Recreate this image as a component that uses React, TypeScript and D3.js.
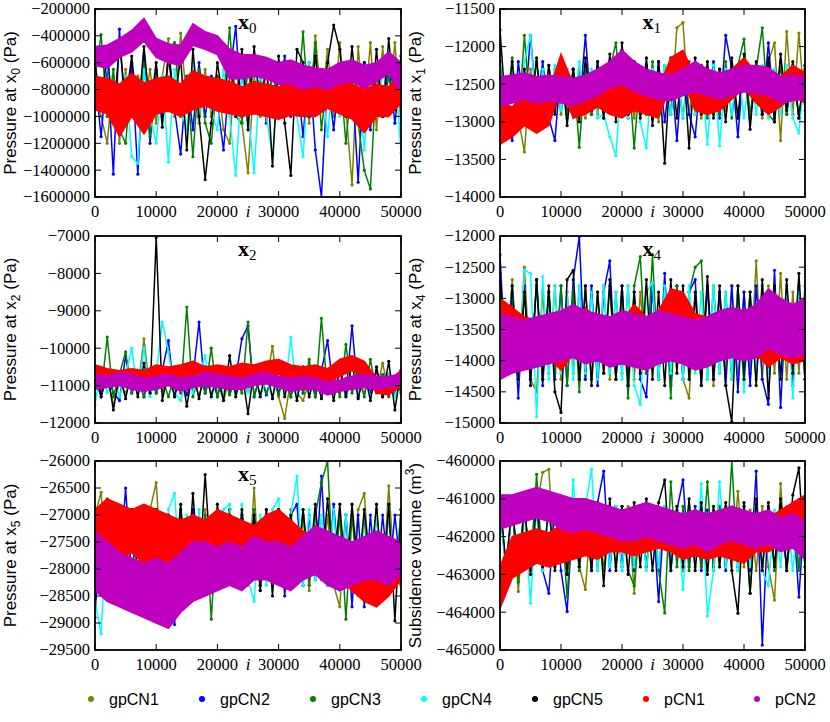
import * as d3 from 'd3';

// iteration grid of the read-off traces (every 1000 iterations, bands every 2000)
const ITERS = d3.range(0, 50001, 1000);
const BAND_ITERS = d3.range(0, 50001, 2000);

const SERIES = ['gpCN1', 'gpCN2', 'gpCN3', 'gpCN4', 'gpCN5', 'pCN1', 'pCN2'];
const COLORS = ['#808000', '#0000ff', '#008000', '#00ffff', '#000000', '#ff0000', '#bf00bf'];
const X_TICKS = [0, 10000, 20000, 30000, 40000, 50000];

// values read in kPa for x0
const kilo = (a: number[]) => a.map(v => v * 1000);

// ---- x0 ----
const x0_gpCN1 = kilo([-800,-1000,-1200,-700,-1200,-650,-1000,-700,-950,-650,-1050,-700,-420,-1000,-380,-900,-700,-1050,-650,-1000,-700,-1100,-1200,-600,-1050,-1420,-700,-1000,-650,-950,-600,-1000,-700,-950,-650,-1050,-400,-900,-500,-1000,-450,-950,-1510,-480,-1000,-450,-1100,-480,-950,-450,-1050]);
const x0_gpCN2 = kilo([-700,-1150,-600,-1430,-350,-1050,-600,-1430,-550,-1200,-650,-1000,-550,-950,-1280,-700,-1100,-600,-1000,-700,-900,-1250,-700,-330,-1000,-600,-950,-700,-1050,-650,-900,-550,-1000,-700,-1150,-600,-1250,-1600,-700,-1100,-650,-950,-700,-1490,-600,-1100,-650,-1000,-600,-1050,-650]);
const x0_gpCN3 = kilo([-700,-390,-1000,-650,-1100,-1200,-700,-1000,-600,-1150,-700,-950,-600,-450,-1000,-700,-1300,-650,-1050,-1200,-700,-900,-340,-1000,-1050,-650,-950,-700,-1000,-650,-900,-1000,-600,-950,-370,-1000,-450,-1100,-700,-950,-650,-1200,-700,-1050,-1400,-1540,-650,-1000,-700,-950,-650]);
const x0_gpCN4 = kilo([-650,-900,-600,-1000,-1150,-700,-1300,-1350,-650,-1000,-1200,-700,-1340,-650,-950,-1100,-600,-1000,-700,-950,-1100,-650,-1000,-1440,-700,-950,-1420,-650,-1000,-1300,-700,-950,-650,-1000,-1300,-600,-950,-700,-1150,-650,-1000,-700,-950,-650,-1250,-700,-1000,-650,-900,-600,-1270]);
const x0_gpCN5 = kilo([-600,-950,-500,-1050,-450,-900,-550,-1000,-480,-950,-600,-1080,-520,-900,-560,-1250,-500,-1000,-1470,-1050,-600,-900,-550,-1000,-500,-1100,-480,-950,-600,-1370,-550,-1050,-1440,-500,-600,-1000,-550,-950,-600,-320,-500,-1000,-480,-950,-600,-1050,-500,-1000,-420,-950,-550]);
const x0_pCN1_hi = kilo([-700,-720,-760,-680,-750,-720,-700,-760,-660,-700,-720,-740,-780,-740,-760,-780,-750,-760,-720,-700,-720,-760,-800,-760,-780,-660]);
const x0_pCN1_lo = kilo([-950,-980,-1150,-1000,-1130,-980,-960,-1000,-950,-920,-960,-980,-1000,-980,-1000,-1020,-990,-1000,-1000,-940,-980,-1020,-1120,-1000,-1000,-900]);
const x0_pCN2_hi = kilo([-480,-470,-420,-360,-270,-420,-460,-470,-310,-370,-400,-500,-540,-540,-560,-600,-580,-620,-640,-650,-600,-580,-620,-600,-520,-600]);
const x0_pCN2_lo = kilo([-620,-640,-560,-520,-440,-560,-600,-620,-470,-500,-540,-720,-720,-700,-720,-760,-760,-800,-780,-800,-760,-740,-790,-740,-680,-820]);

// ---- x1 ----
const x1_gpCN1 = [-12500,-12900,-12300,-12950,-13400,-12300,-12900,-12350,-12850,-12300,-12900,-12350,-12850,-12300,-12950,-12400,-12900,-12300,-12850,-12400,-12900,-12300,-12950,-12350,-12900,-12300,-13000,-12350,-12900,-11750,-11680,-12900,-12300,-12950,-12350,-12900,-12300,-12850,-12350,-12950,-12300,-12900,-12350,-12950,-12200,-11950,-13250,-11800,-12900,-11820,-12850];
const x1_gpCN2 = [-12300,-12950,-13250,-12200,-12900,-11850,-12800,-12200,-12950,-13250,-12250,-12900,-12300,-12850,-11850,-12900,-12300,-12950,-12200,-12900,-12050,-12950,-12300,-12900,-12250,-12950,-12200,-13000,-12300,-13250,-12200,-12900,-13200,-12250,-12900,-12200,-12950,-11850,-12300,-13200,-12200,-12950,-12300,-12900,-11950,-12950,-12200,-12900,-12250,-12950,-12300];
const x1_gpCN3 = [-12200,-12900,-12150,-13000,-11850,-12900,-12200,-12950,-12250,-12850,-12200,-12950,-12300,-13340,-12250,-12900,-12200,-12950,-12300,-11950,-12900,-12250,-13350,-12300,-12900,-12200,-12950,-12250,-12900,-12300,-12950,-12200,-12900,-12250,-12950,-12300,-12900,-12200,-12950,-12250,-11900,-12950,-12300,-11750,-12900,-13000,-12250,-12900,-12300,-12950,-12250];
const x1_gpCN4 = [-12300,-12900,-12250,-13000,-12200,-11850,-12900,-12300,-12950,-12250,-12850,-12300,-12950,-12200,-12900,-12300,-12950,-12900,-13200,-13450,-12300,-12950,-12250,-13000,-13350,-12300,-12950,-12250,-12900,-12300,-12950,-12250,-12900,-12300,-13300,-12250,-13320,-12300,-12900,-12250,-12950,-12300,-12900,-12250,-12950,-12300,-12900,-12250,-12950,-13150,-12300];
const x1_gpCN5 = [-11780,-12900,-12200,-13000,-12300,-12850,-12150,-13000,-12250,-12900,-12200,-13050,-12300,-13000,-12150,-12850,-12200,-12950,-12100,-13000,-11950,-12900,-12200,-12950,-12150,-13050,-12200,-13550,-12150,-12950,-12100,-13350,-12150,-12900,-12200,-12950,-12300,-13000,-12150,-12950,-12100,-13100,-12200,-12900,-12150,-13000,-12100,-12850,-12200,-12950,-12250];
const x1_pCN1_hi = [-12750,-12800,-12650,-12700,-12600,-12100,-12500,-12550,-12400,-12450,-12500,-12450,-12500,-12550,-12150,-12050,-12400,-12550,-12500,-12300,-12150,-12350,-12550,-12400,-12250,-12350];
const x1_pCN1_lo = [-13300,-13200,-13050,-13150,-13050,-12550,-12950,-12900,-12800,-12900,-12950,-12850,-12900,-12950,-12500,-12450,-12850,-12900,-12850,-12700,-12550,-12750,-12900,-12800,-12650,-12750];
const x1_pCN2_hi = [-12400,-12380,-12350,-12400,-12380,-12400,-12420,-12380,-12300,-12200,-12050,-12200,-12300,-12350,-12380,-12300,-12200,-12300,-12350,-12300,-12250,-12250,-12280,-12400,-12380,-12400];
const x1_pCN2_lo = [-12800,-12750,-12700,-12750,-12720,-12750,-12780,-12720,-12650,-12550,-12500,-12600,-12650,-12700,-12720,-12650,-12600,-12650,-12700,-12650,-12600,-12620,-12650,-12750,-12720,-12700];

// ---- x2 ----
const x2_gpCN1 = [-10900,-11200,-10800,-11530,-10900,-11200,-10800,-11100,-9750,-11200,-10800,-11150,-10900,-11200,-10800,-11100,-10900,-11250,-10800,-11200,-10900,-11400,-10800,-11200,-10900,-11150,-10800,-11200,-10900,-9950,-11300,-11880,-10800,-11200,-11400,-10900,-11200,-10800,-11150,-10900,-11200,-10800,-11100,-10900,-11200,-10800,-11150,-10400,-11200,-10900,-11100];
const x2_gpCN2 = [-10800,-11300,-10700,-11200,-11400,-10200,-11200,-10800,-11300,-10700,-11200,-10600,-9800,-11300,-10700,-11250,-10800,-9300,-11200,-10700,-11300,-10600,-11200,-10800,-9750,-9400,-11300,-10700,-11250,-10650,-11200,-10700,-11300,-10600,-11200,-10700,-11300,-10600,-9800,-11200,-10700,-11250,-9400,-11300,-10700,-11200,-10600,-11300,-10700,-11250,-10600];
const x2_gpCN3 = [-10800,-11200,-9700,-11300,-10700,-10100,-11200,-10800,-11300,-10700,-11200,-10800,-11300,-10700,-11200,-8900,-11300,-10700,-11200,-10000,-11300,-10700,-11250,-10800,-11200,-9300,-11300,-10700,-11200,-10800,-11250,-10700,-11300,-10700,-11200,-10300,-11300,-9200,-11200,-10700,-11300,-9900,-11200,-10700,-11300,-10300,-11200,-10700,-11300,-10800,-11200];
const x2_gpCN4 = [-11500,-10500,-11200,-10800,-11300,-10700,-10000,-11200,-10000,-11300,-10700,-9300,-10100,-11200,-11400,-10800,-11200,-10700,-10200,-11300,-10800,-11200,-10700,-11300,-10800,-11200,-10700,-11300,-10800,-11350,-10700,-11200,-9700,-11300,-10800,-11200,-10700,-11300,-10800,-11200,-10700,-11300,-10800,-11200,-10700,-11300,-10800,-11200,-10700,-11300,-10600];
const x2_gpCN5 = [-10500,-11300,-10600,-11650,-10700,-11350,-10600,-11300,-10400,-11200,-7050,-11400,-10600,-11300,-10500,-11550,-10600,-11350,-10500,-11300,-10700,-11400,-10200,-11300,-10600,-11750,-10550,-11300,-10500,-11350,-10400,-11300,-10600,-11400,-10500,-11300,-10700,-11350,-10600,-11400,-10500,-11300,-10400,-11350,-10600,-11400,-10500,-11300,-10350,-11650,-10600];
const x2_pCN1_hi = [-10450,-10550,-10600,-10550,-10600,-10450,-10500,-10450,-10350,-10500,-10450,-10500,-10400,-10450,-10350,-10300,-10450,-10500,-10450,-10550,-10300,-10200,-10350,-10800,-10850,-10600];
const x2_pCN1_lo = [-10850,-10900,-10950,-10900,-10950,-10800,-10900,-10800,-10750,-10850,-10800,-10850,-10750,-10800,-10700,-10700,-10800,-10850,-10800,-10900,-10750,-10600,-10750,-11200,-11250,-11000];
const x2_pCN2_hi = [-10700,-10750,-10650,-10700,-10800,-10750,-10700,-10800,-10750,-10650,-10700,-10750,-10800,-10700,-10650,-10750,-10800,-10750,-10800,-10900,-10850,-10750,-10700,-10750,-10750,-10700];
const x2_pCN2_lo = [-11100,-11050,-11000,-11100,-11150,-11100,-11000,-11150,-11050,-11000,-11050,-11100,-11100,-11000,-10950,-11050,-11150,-11100,-11100,-11250,-11150,-11100,-11050,-11100,-11050,-11000];

// ---- x4 ----
const x4_gpCN1 = [-12900,-14100,-12700,-14200,-12500,-14300,-14500,-12900,-14200,-12800,-14300,-12900,-14200,-12800,-14300,-12900,-14200,-12800,-14300,-12900,-14200,-12800,-14300,-12900,-14200,-12800,-14300,-12900,-14200,-12800,-14300,-14600,-12900,-14200,-12800,-14400,-12900,-14200,-12800,-14300,-12900,-14200,-12400,-14300,-12800,-14200,-12600,-14300,-12900,-14200,-12800];
const x4_gpCN2 = [-12300,-14200,-12900,-14600,-12800,-14300,-12700,-14400,-12900,-14300,-12800,-14400,-12700,-12010,-14300,-12800,-14400,-12900,-12400,-14300,-12800,-14400,-12900,-14300,-14580,-12800,-14300,-12600,-14400,-12800,-14300,-12900,-12700,-14400,-12800,-14300,-12900,-14400,-12800,-14500,-12900,-14400,-12800,-14300,-14700,-12550,-14750,-12900,-14400,-12800,-14300];
const x4_gpCN3 = [-12900,-14200,-12800,-14300,-12900,-14100,-12800,-14300,-12900,-14200,-12800,-14400,-12900,-14500,-12800,-14300,-12900,-14200,-12800,-14300,-12900,-14600,-12800,-12330,-14200,-12300,-14300,-12900,-14600,-12800,-14300,-12900,-12500,-12400,-14300,-12800,-14200,-12900,-14300,-12800,-14200,-12900,-14300,-12800,-14200,-12900,-14300,-12800,-14200,-12900,-14100];
const x4_gpCN4 = [-12900,-14200,-12800,-14300,-12550,-12600,-14900,-12650,-14300,-12800,-14200,-12900,-14300,-12800,-14200,-12900,-14300,-12800,-14200,-12900,-14300,-12800,-14400,-14700,-12900,-12750,-14300,-12800,-14200,-12900,-14300,-12800,-14200,-12900,-14300,-12800,-14200,-12900,-14300,-12800,-14500,-12900,-14300,-12800,-14200,-12900,-14300,-12800,-14600,-12900,-14200];
const x4_gpCN5 = [-12600,-14200,-12800,-14300,-12900,-14400,-12700,-14300,-12800,-14500,-14830,-12700,-12550,-14300,-12800,-14400,-12900,-14200,-12700,-14300,-12800,-14400,-12900,-14200,-12700,-14300,-12900,-14400,-12700,-14200,-12800,-14300,-12900,-14400,-12650,-14300,-12800,-14400,-14980,-12800,-14300,-12900,-14400,-12700,-14600,-12800,-14300,-12700,-14200,-12600,-14300];
const x4_pCN1_hi = [-13000,-13150,-13300,-13350,-13450,-13650,-13400,-13150,-13350,-13300,-13350,-13100,-13300,-13200,-12850,-12900,-13250,-13300,-13350,-13300,-13200,-13350,-13550,-13450,-13600,-13500];
const x4_pCN1_lo = [-13700,-13650,-13800,-13850,-13950,-14150,-13900,-13600,-13800,-13750,-13800,-13600,-13800,-13650,-13300,-13400,-13750,-13800,-13850,-13800,-13700,-13900,-14100,-13950,-14050,-14000];
const x4_pCN2_hi = [-13250,-13300,-13350,-13300,-13250,-13200,-13100,-13200,-13250,-13300,-13200,-13250,-13300,-13200,-13250,-13300,-13350,-13300,-13200,-13150,-13200,-13100,-12850,-13000,-13100,-13000];
const x4_pCN2_lo = [-14300,-14200,-14150,-14100,-14050,-14000,-13950,-14050,-14000,-14100,-14050,-14100,-14150,-14050,-14000,-14050,-14150,-14100,-14000,-13950,-14000,-13950,-13800,-13900,-13950,-13900];

// ---- x5 ----
const x5_gpCN1 = [-27000,-26580,-28200,-27000,-28300,-26900,-28200,-27000,-28300,-26900,-26400,-28200,-27000,-28300,-26900,-28200,-27000,-28300,-26900,-28200,-27000,-28300,-26900,-28200,-27000,-28300,-26500,-28400,-26900,-28200,-27000,-28300,-26900,-28200,-27000,-28400,-26900,-28200,-27000,-28300,-28700,-27000,-28200,-26900,-26600,-28200,-27000,-28300,-26460,-28200,-28300];
const x5_gpCN2 = [-28900,-27000,-28200,-26900,-28100,-26500,-28200,-27000,-28300,-26900,-28200,-27000,-28400,-29030,-27000,-28300,-26900,-28200,-27100,-28300,-27000,-28200,-26900,-28300,-27000,-28200,-27100,-28300,-27000,-28200,-26900,-28500,-27000,-26800,-28300,-27000,-28200,-26280,-28300,-26800,-28200,-27000,-28700,-27000,-28700,-27000,-28300,-27000,-28200,-27000,-28100];
const x5_gpCN3 = [-27000,-28200,-26700,-28500,-27000,-28100,-26900,-28200,-27000,-28300,-26900,-28200,-27000,-28300,-26900,-28200,-27000,-28300,-27000,-28930,-27000,-28200,-26900,-28300,-27000,-28200,-26900,-28300,-27000,-28200,-26900,-28300,-27000,-28200,-26900,-28300,-27000,-26400,-26000,-28300,-27000,-28930,-27000,-28300,-27000,-28600,-26900,-28200,-27000,-28300,-26900];
const x5_gpCN4 = [-28600,-29200,-27000,-28300,-26900,-28200,-27000,-28300,-26900,-28200,-27000,-28300,-26900,-26600,-28200,-27000,-28300,-26900,-28200,-27000,-28300,-26900,-26800,-28300,-26800,-28200,-28600,-27000,-28300,-26900,-26700,-28200,-27000,-26280,-28300,-26900,-28200,-27000,-28300,-26900,-28400,-27000,-28300,-28500,-26900,-28200,-27000,-28300,-26900,-28200,-27000];
const x5_gpCN5 = [-26900,-27900,-26800,-28000,-27000,-27900,-26900,-28100,-27000,-28000,-26900,-28100,-27000,-28000,-26800,-28200,-26600,-28100,-26250,-28000,-26800,-27900,-27000,-28200,-26900,-28100,-27000,-28400,-26900,-28500,-26900,-28200,-27000,-28100,-26900,-28000,-26800,-28100,-26700,-28000,-26800,-28200,-26800,-28100,-26900,-28000,-26800,-28300,-26800,-28960,-26900];
const x5_pCN1_hi = [-26900,-26700,-26800,-26900,-26800,-26900,-27000,-27100,-27000,-27100,-26900,-27000,-27100,-27200,-27000,-26900,-27100,-27300,-27400,-27500,-27400,-27600,-27700,-27800,-27600,-27600];
const x5_pCN1_lo = [-27700,-27600,-27800,-27700,-27900,-27800,-27900,-28000,-27800,-27700,-27800,-27900,-28000,-27900,-27800,-27700,-27800,-28100,-28100,-28200,-28200,-28400,-28600,-28700,-28500,-28200];
const x5_pCN2_hi = [-27300,-27500,-27700,-27800,-27900,-27800,-27900,-27700,-27500,-27500,-27600,-27500,-27600,-27400,-27500,-27500,-27600,-27400,-27200,-27300,-27400,-27500,-27400,-27300,-27400,-27500];
const x5_pCN2_lo = [-28400,-28600,-28700,-28800,-28900,-29000,-29100,-28800,-28600,-28500,-28400,-28300,-28400,-28200,-28200,-28300,-28400,-28200,-28100,-28300,-28400,-28300,-28200,-28200,-28300,-28100];

// ---- subsidence volume ----
const sv_gpCN1 = [-461300,-462800,-461200,-463450,-461300,-462900,-461200,-460300,-460220,-462800,-461300,-462900,-461200,-462800,-463400,-461300,-462900,-461200,-462800,-461300,-462900,-461200,-463500,-461300,-462800,-461200,-462900,-461300,-462800,-461200,-462900,-461300,-462800,-461200,-462900,-461300,-462800,-461200,-462900,-460800,-462800,-461300,-462900,-461200,-462800,-463680,-460600,-462900,-461300,-462800,-461200];
const sv_gpCN2 = [-461200,-462800,-461300,-462900,-461200,-462800,-461300,-462900,-463500,-461200,-462900,-463980,-461300,-462800,-461200,-462900,-461100,-460270,-462900,-461200,-462800,-461300,-462900,-461200,-462800,-461300,-463720,-461200,-462900,-461300,-460500,-462800,-461200,-462900,-461300,-462800,-461200,-462900,-461300,-462800,-461200,-462900,-460270,-464870,-461300,-462800,-461200,-462900,-461300,-463600,-461200];
const sv_gpCN3 = [-461300,-462900,-461200,-463200,-461300,-462800,-460350,-462900,-461200,-462800,-461300,-463600,-461200,-462900,-461300,-462800,-461200,-462900,-461300,-462800,-461200,-462900,-463300,-461200,-462800,-461300,-462900,-464020,-460550,-462800,-461200,-462900,-461300,-462800,-460550,-462900,-461200,-462800,-460000,-462900,-461200,-463500,-461300,-462800,-461200,-462900,-461300,-462800,-461200,-462900,-461300];
const sv_gpCN4 = [-461300,-462900,-461200,-462800,-461300,-463760,-461200,-462900,-461300,-462800,-461200,-462900,-460500,-462800,-461200,-460220,-462900,-461300,-462800,-461200,-462900,-461300,-462800,-461200,-462900,-461300,-462800,-461200,-462900,-461300,-463400,-461200,-462800,-460600,-464100,-462900,-460550,-462800,-461200,-462900,-461300,-462800,-461200,-462900,-463300,-461300,-462800,-461200,-462900,-461300,-462800];
const sv_gpCN5 = [-461000,-462800,-461100,-462900,-461200,-463000,-461100,-462800,-461200,-462900,-461000,-463000,-461100,-462800,-461200,-462900,-461100,-463300,-461000,-462900,-461200,-463000,-461100,-462800,-461000,-462900,-461100,-460500,-462900,-461200,-462800,-461000,-462900,-461100,-463000,-461200,-462800,-461100,-462900,-464030,-461100,-463500,-461000,-462900,-461100,-462800,-461000,-462900,-460900,-460180,-462800];
const sv_pCN1_hi = [-462800,-462000,-461900,-461800,-461900,-461700,-461800,-461700,-461800,-461700,-461600,-461700,-461600,-461500,-461600,-461700,-461600,-461700,-461600,-461700,-461800,-461600,-461500,-461300,-461100,-460900];
const sv_pCN1_lo = [-463900,-463100,-462900,-462700,-462800,-462700,-462600,-462500,-462600,-462400,-462400,-462500,-462400,-462300,-462400,-462600,-462500,-462600,-462500,-462600,-462700,-462400,-462400,-462200,-462000,-461800];
const sv_pCN2_hi = [-460900,-460900,-460800,-460700,-460800,-460900,-461000,-461000,-461100,-461200,-461300,-461200,-461100,-461200,-461300,-461400,-461300,-461400,-461300,-461200,-461300,-461400,-461300,-461500,-461400,-461600];
const sv_pCN2_lo = [-461800,-461700,-461600,-461500,-461600,-461800,-461900,-461800,-461900,-462000,-462100,-462100,-462000,-462100,-462200,-462300,-462200,-462400,-462200,-462100,-462200,-462300,-462200,-462400,-462300,-462600];

// y-axis ticks per panel
const x0_ticks = d3.range(-1600000, -199999, 200000);
const x1_ticks = d3.range(-14000, -11499, 500);
const x2_ticks = d3.range(-12000, -6999, 1000);
const x4_ticks = d3.range(-15000, -11999, 500);
const x5_ticks = d3.range(-29500, -25999, 500);
const sv_ticks = d3.range(-465000, -459999, 1000);

const W = 830;
const H = 722;
const COLS = [[95, 401], [500, 805]];
const ROWS = [[9, 197], [236, 423], [461, 650]];

const SERIF = '"Liberation Serif", "DejaVu Serif", serif';
const SANS = '"Liberation Sans", Arial, sans-serif';

interface PanelDef {
  id: string;
  col: number;
  row: number;
  title?: string;
  label: { pre: string; sub?: string; sup?: string; post: string };
  ticks: number[];
  gp: number[][];
  hi: number[][];
  lo: number[][];
}

const PANELS: PanelDef[] = [
  { id: 'x0', col: 0, row: 0, title: '0', label: { pre: 'Pressure at x', sub: '0', post: ' (Pa)' }, ticks: x0_ticks,
    gp: [x0_gpCN1, x0_gpCN2, x0_gpCN3, x0_gpCN4, x0_gpCN5], hi: [x0_pCN1_hi, x0_pCN2_hi], lo: [x0_pCN1_lo, x0_pCN2_lo] },
  { id: 'x1', col: 1, row: 0, title: '1', label: { pre: 'Pressure at x', sub: '1', post: ' (Pa)' }, ticks: x1_ticks,
    gp: [x1_gpCN1, x1_gpCN2, x1_gpCN3, x1_gpCN4, x1_gpCN5], hi: [x1_pCN1_hi, x1_pCN2_hi], lo: [x1_pCN1_lo, x1_pCN2_lo] },
  { id: 'x2', col: 0, row: 1, title: '2', label: { pre: 'Pressure at x', sub: '2', post: ' (Pa)' }, ticks: x2_ticks,
    gp: [x2_gpCN1, x2_gpCN2, x2_gpCN3, x2_gpCN4, x2_gpCN5], hi: [x2_pCN1_hi, x2_pCN2_hi], lo: [x2_pCN1_lo, x2_pCN2_lo] },
  { id: 'x4', col: 1, row: 1, title: '4', label: { pre: 'Pressure at x', sub: '4', post: ' (Pa)' }, ticks: x4_ticks,
    gp: [x4_gpCN1, x4_gpCN2, x4_gpCN3, x4_gpCN4, x4_gpCN5], hi: [x4_pCN1_hi, x4_pCN2_hi], lo: [x4_pCN1_lo, x4_pCN2_lo] },
  { id: 'x5', col: 0, row: 2, title: '5', label: { pre: 'Pressure at x', sub: '5', post: ' (Pa)' }, ticks: x5_ticks,
    gp: [x5_gpCN1, x5_gpCN2, x5_gpCN3, x5_gpCN4, x5_gpCN5], hi: [x5_pCN1_hi, x5_pCN2_hi], lo: [x5_pCN1_lo, x5_pCN2_lo] },
  { id: 'sv', col: 1, row: 2, label: { pre: 'Subsidence volume (m', sup: '3', post: ')' }, ticks: sv_ticks,
    gp: [sv_gpCN1, sv_gpCN2, sv_gpCN3, sv_gpCN4, sv_gpCN5], hi: [sv_pCN1_hi, sv_pCN2_hi], lo: [sv_pCN1_lo, sv_pCN2_lo] },
];

const fmt = d3.format('d');

function Panel({ p }: { p: PanelDef }) {
  const [x0, x1] = COLS[p.col];
  const [y0, y1] = ROWS[p.row];
  const w = x1 - x0;
  const h = y1 - y0;
  const xs = d3.scaleLinear().domain([0, 50000]).range([0, w]);
  const ys = d3.scaleLinear().domain(d3.extent(p.ticks) as [number, number]).range([h, 0]);

  const line = d3.line<number>().x((_, i) => xs(ITERS[i])).y(v => ys(v));
  const band = (lo: number[]) =>
    d3.area<number>()
      .x((_, i) => xs(BAND_ITERS[i]))
      .y0((_, i) => ys(lo[i]))
      .y1(v => ys(v));

  const tl = 6;
  const labelX = p.col === 0 ? 16 : 421;

  return (
    <g>
      <defs>
        <clipPath id={`clip-${p.id}`}>
          <rect x={0} y={0} width={w} height={h} />
        </clipPath>
      </defs>
      <g transform={`translate(${x0},${y0})`}>
        <g clipPath={`url(#clip-${p.id})`}>
          {p.gp.map((s, k) => (
            <g key={k}>
              <path d={line(s) ?? ''} fill="none" stroke={COLORS[k]} strokeWidth={1.5} strokeLinejoin="round" />
              {s.map((v, i) => (
                <circle key={i} cx={xs(ITERS[i])} cy={ys(v)} r={1.6} fill={COLORS[k]} />
              ))}
            </g>
          ))}
          {p.hi.map((s, k) => (
            <path key={k} d={band(p.lo[k])(s) ?? ''} fill={COLORS[5 + k]} stroke={COLORS[5 + k]} strokeWidth={1.5} />
          ))}
        </g>

        {/* ticks on all sides, pointing inward */}
        {X_TICKS.map(t => (
          <g key={`x${t}`}>
            <line x1={xs(t)} x2={xs(t)} y1={h} y2={h - tl} stroke="#000" strokeWidth={1} />
            <line x1={xs(t)} x2={xs(t)} y1={0} y2={tl} stroke="#000" strokeWidth={1} />
            <text x={xs(t)} y={h + 20} textAnchor="middle" fontFamily={SERIF} fontSize={16.5}>{t}</text>
          </g>
        ))}
        {p.ticks.map(t => (
          <g key={`y${t}`}>
            <line x1={0} x2={tl} y1={ys(t)} y2={ys(t)} stroke="#000" strokeWidth={1} />
            <line x1={w} x2={w - tl} y1={ys(t)} y2={ys(t)} stroke="#000" strokeWidth={1} />
            <text x={-5} y={ys(t)} dy="0.33em" textAnchor="end" fontFamily={SERIF} fontSize={16.5}>{fmt(t)}</text>
          </g>
        ))}
        <rect x={0} y={0} width={w} height={h} fill="none" stroke="#000" strokeWidth={1.8} />

        <text x={xs(25000)} y={h + 20} textAnchor="middle" fontFamily={SERIF} fontStyle="italic" fontSize={17}>i</text>

        {p.title && (
          <text x={w / 2 - 10} y={20} fontFamily={SERIF} fontWeight="bold" fontSize={22}>
            x<tspan fontSize={15} fontWeight="normal" dy={4}>{p.title}</tspan>
          </text>
        )}
      </g>

      <text transform={`translate(${labelX},${(y0 + y1) / 2}) rotate(-90)`} textAnchor="middle" fontFamily={SANS} fontSize={17}>
        {p.label.pre}
        {p.label.sub && <tspan fontSize={12} dy={4}>{p.label.sub}</tspan>}
        {p.label.sup && <tspan fontSize={12} dy={-7}>{p.label.sup}</tspan>}
        <tspan dy={p.label.sub ? -4 : 7}>{p.label.post}</tspan>
      </text>
    </g>
  );
}

function Legend() {
  const lx = d3.scalePoint<string>().domain(SERIES).range([91, 757]);
  return (
    <g>
      {SERIES.map((s, i) => (
        <g key={s}>
          <circle cx={lx(s)} cy={699} r={3} fill={COLORS[i]} />
          <text x={(lx(s) ?? 0) + 18} y={705} fontFamily={SANS} fontSize={16}>{s}</text>
        </g>
      ))}
    </g>
  );
}

export default function App() {
  return (
    <svg width={W} height={H} style={{ position: 'absolute', left: 0, top: 0, background: '#fff' }}>
      {PANELS.map(p => <Panel key={p.id} p={p} />)}
      <Legend />
    </svg>
  );
}
